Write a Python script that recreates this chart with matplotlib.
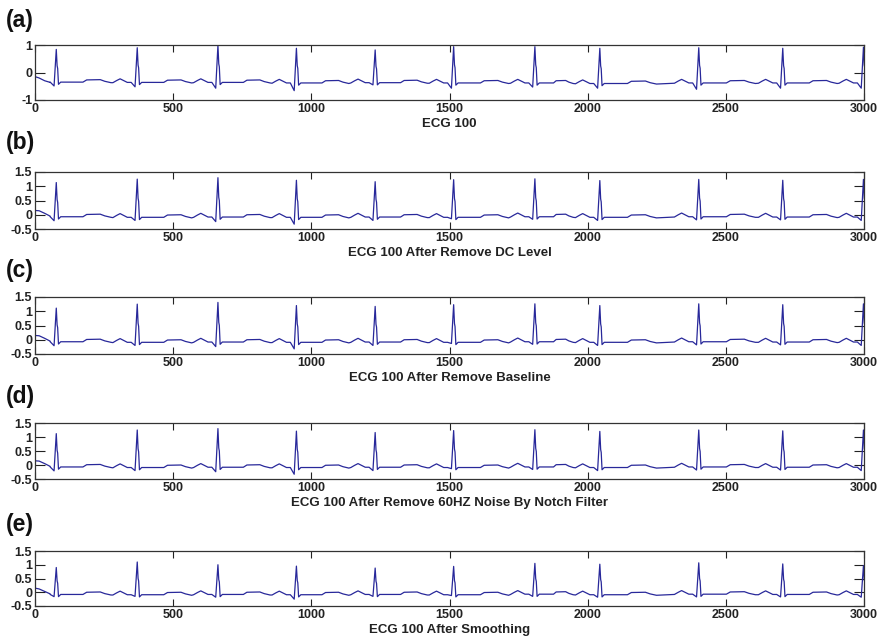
import matplotlib
matplotlib.use("Agg")
import matplotlib.pyplot as plt

# ---------------- data ----------------
R_POS = [77, 370, 662, 946, 1231, 1515, 1809, 2044, 2402, 2706, 2998]

PANEL_LABELS = ["(a)", "(b)", "(c)", "(d)", "(e)"]
TITLES = ["ECG 100",
          "ECG 100 After Remove DC Level",
          "ECG 100 After Remove Baseline",
          "ECG 100 After Remove 60HZ Noise By Notch Filter",
          "ECG 100 After Smoothing"]

X_TICKS = [0, 500, 1000, 1500, 2000, 2500, 3000]
Y_TICKS_A = [-1, 0, 1]
Y_TICKS_B = [-0.5, 0, 0.5, 1, 1.5]

# start of record (x samples and values)
START_X = [0, 15, 35, 55]
START_A = [-0.15, -0.20, -0.30, -0.36]
START_B = [0.15, 0.14, 0.05, -0.05]
START_E = [0.15, 0.12, 0.03, -0.06]

# per-beat R peak, Q dip and baseline values
R_A = [0.84, 0.90, 0.99, 0.88, 0.82, 0.94, 0.94, 0.88, 0.90, 0.88, 0.92]
Q_A = [-0.49, -0.52, -0.57, -0.66, -0.45, -0.57, -0.53, -0.57, -0.61, -0.57, -0.57]
BASE_A = [-0.35, -0.36, -0.36, -0.38, -0.37, -0.38, -0.38, -0.40, -0.38, -0.38, -0.38]

R_B = [1.13, 1.25, 1.30, 1.21, 1.16, 1.23, 1.26, 1.20, 1.24, 1.21, 1.24]
Q_B = [-0.21, -0.20, -0.24, -0.33, -0.20, -0.14, -0.16, -0.20, -0.18, -0.18, -0.20]
BASE_B = [-0.07, -0.09, -0.08, -0.09, -0.08, -0.09, -0.07, -0.09, -0.07, -0.08, -0.08]

R_C = [1.11, 1.25, 1.31, 1.20, 1.17, 1.23, 1.26, 1.20, 1.26, 1.23, 1.26]
Q_C = [-0.21, -0.20, -0.24, -0.32, -0.20, -0.13, -0.16, -0.20, -0.18, -0.18, -0.20]
BASE_C = [-0.07, -0.09, -0.08, -0.09, -0.08, -0.09, -0.07, -0.09, -0.07, -0.08, -0.08]

R_D = [1.12, 1.25, 1.30, 1.21, 1.16, 1.23, 1.26, 1.20, 1.25, 1.22, 1.25]
Q_D = [-0.21, -0.20, -0.24, -0.33, -0.20, -0.13, -0.16, -0.20, -0.18, -0.18, -0.20]
BASE_D = [-0.07, -0.09, -0.08, -0.09, -0.08, -0.09, -0.07, -0.09, -0.07, -0.08, -0.08]

R_E = [0.90, 1.10, 1.00, 0.95, 0.88, 0.94, 1.05, 1.02, 1.07, 1.03, 0.97]
Q_E = [-0.16, -0.15, -0.18, -0.25, -0.15, -0.12, -0.15, -0.18, -0.17, -0.17, -0.18]
BASE_E = [-0.08, -0.09, -0.08, -0.09, -0.08, -0.09, -0.07, -0.09, -0.07, -0.08, -0.08]

# wave shapes (offset from R in samples, amplitude above baseline)
P_DX = [-88, -74, -62, -50, -36]
P_SHAPE = [-0.01, 0.07, 0.13, 0.07, 0.0]
T_DX = [100, 114, 140, 165, 182, 205]
T_SHAPE = [0.0, 0.08, 0.085, 0.09, 0.03, -0.02]
QRS_DX = [-22, -8, 0, 3, 5, 8, 16]
QRS_WQ = [0, 1, 0, 0, 0, 0, 0]
QRS_WR = [0, 0, 1, 0.5, 0.42, 0, 0]
QRS_S = [0, 0, 0, 0, 0, -0.08, 0]


def build(start_y, r_peak, q_val, base):
    xs = list(START_X)
    ys = list(start_y)
    n = len(R_POS)
    for i, r in enumerate(R_POS):
        b = base[i]
        if i > 0:
            for dx, f in zip(P_DX, P_SHAPE):
                xs.append(r + dx)
                ys.append(b + f)
        for dx, wq, wr, ws in zip(QRS_DX, QRS_WQ, QRS_WR, QRS_S):
            xs.append(r + dx)
            ys.append(b + wq * (q_val[i] - b) + wr * (r_peak[i] - b) + ws)
        if i < n - 1:
            rr = R_POS[i + 1] - r
            k = min(1.0, (rr - 100) / 200.0)
            for dx, f in zip(T_DX, T_SHAPE):
                xs.append(r + dx * k)
                ys.append(b + f)
    return xs, ys


SERIES = [
    (START_A, R_A, Q_A, BASE_A, (-1, 1), Y_TICKS_A),
    (START_B, R_B, Q_B, BASE_B, (-0.5, 1.5), Y_TICKS_B),
    (START_B, R_C, Q_C, BASE_C, (-0.5, 1.5), Y_TICKS_B),
    (START_B, R_D, Q_D, BASE_D, (-0.5, 1.5), Y_TICKS_B),
    (START_E, R_E, Q_E, BASE_E, (-0.5, 1.5), Y_TICKS_B),
]

# ---------------- layout ----------------
W, H = 883, 637
fig = plt.figure(figsize=(W / 100, H / 100), dpi=100)
fig.patch.set_facecolor("white")

AX_LEFT, AX_RIGHT = 35, 864
AX_TOPS = [45, 172, 297, 423, 551]
AX_BOTS = [100, 229, 354, 479, 606]
LABEL_Y = [21, 143, 271, 396, 524]

FONT = "Liberation Sans"
LINE_COLOR = "#28289a"

for i, (sy, rp, qv, bs, ylim, yt) in enumerate(SERIES):
    top, bot = AX_TOPS[i], AX_BOTS[i]
    ax = fig.add_axes([AX_LEFT / W, 1 - bot / H,
                       (AX_RIGHT - AX_LEFT) / W, (bot - top) / H])
    xs, ys = build(sy, rp, qv, bs)
    ax.plot(xs, ys, color=LINE_COLOR, lw=0.9)
    ax.set_xlim(0, 3000)
    ax.set_ylim(*ylim)
    ax.set_xticks(X_TICKS)
    ax.set_yticks(yt)
    ax.set_xticklabels([f"{v:g}" for v in X_TICKS])
    ax.set_yticklabels([f"{v:g}" for v in yt])
    ax.tick_params(axis="both", direction="in", top=True, right=True,
                   colors="#222222", labelsize=9, width=0.8)
    ax.tick_params(axis="x", length=5, pad=2)
    ax.tick_params(axis="y", length=7, pad=2)
    for lab in ax.get_xticklabels() + ax.get_yticklabels():
        lab.set_fontfamily(FONT)
        lab.set_fontweight("bold")
    for sp in ax.spines.values():
        sp.set_color("#333333")
        sp.set_linewidth(0.9)
    fig.text((AX_LEFT + AX_RIGHT) / 2 / W, 1 - (bot + 24) / H, TITLES[i],
             ha="center", va="center", fontsize=9.5, fontweight="bold",
             family=FONT, color="#222222")
    fig.text(6 / W, 1 - LABEL_Y[i] / H, PANEL_LABELS[i], ha="left",
             va="center", fontsize=16.5, fontweight="bold", family=FONT,
             color="#111111")

fig.savefig("out.png", dpi=100)
